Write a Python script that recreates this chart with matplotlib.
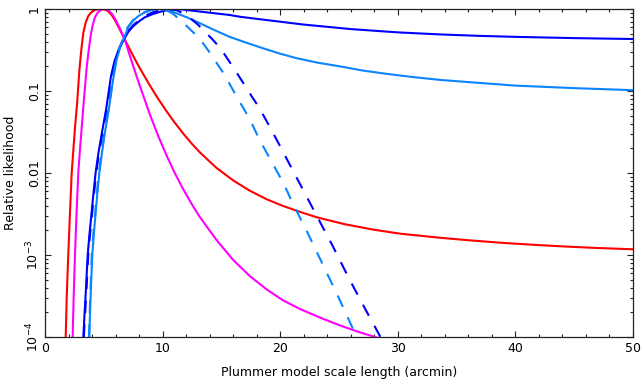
import numpy as np
import matplotlib.pyplot as plt
from matplotlib.ticker import FixedLocator, MultipleLocator, LogLocator, NullFormatter

# scale length (arcmin) and log10(relative likelihood)
red_x = [1.76, 1.85, 1.98, 2.12, 2.27, 2.42, 2.55, 2.75, 2.92, 3.1, 3.26, 3.45, 3.66,
         3.9, 4.2, 4.5, 4.9, 5.3, 5.67, 6.0, 6.4, 6.8, 7.2, 7.6, 8.0, 8.5, 8.93, 9.6,
         10.35, 11.0, 11.76, 12.5, 13.18, 14.6, 16.0, 17.4, 18.85, 20.2, 21.7, 23.1,
         25.5, 27.9, 30.2, 33.6, 36.0, 38.7, 41.5, 44.0, 47.0, 50.0]
red_ly = [-4.0, -3.5, -3.0, -2.5, -2.0, -1.7, -1.45, -1.11, -0.75, -0.48, -0.29, -0.17,
          -0.09, -0.045, -0.015, -0.003, 0.0, -0.02, -0.073, -0.15, -0.26, -0.378,
          -0.49, -0.60, -0.705, -0.83, -0.935, -1.09, -1.25, -1.38, -1.52, -1.645,
          -1.75, -1.94, -2.09, -2.215, -2.32, -2.40, -2.475, -2.54, -2.625, -2.69,
          -2.74, -2.79, -2.82, -2.85, -2.875, -2.895, -2.915, -2.93]

mag_x = [2.35, 2.44, 2.55, 2.68, 2.83, 2.98, 3.12, 3.3, 3.54, 3.7, 3.89, 4.05, 4.25,
         4.5, 4.8, 5.1, 5.4, 5.7, 6.0, 6.4, 6.8, 7.15, 7.51, 8.0, 8.5, 8.93, 9.63,
         10.35, 11.0, 11.76, 12.5, 13.18, 14.6, 16.0, 17.4, 18.85, 20.2, 21.7, 23.5,
         25.1, 26.7, 28.3, 29.0]
mag_ly = [-4.0, -3.5, -3.0, -2.5, -2.0, -1.7, -1.45, -1.12, -0.72, -0.52, -0.32, -0.2,
          -0.1, -0.04, -0.008, 0.0, -0.015, -0.06, -0.13, -0.25, -0.378, -0.54, -0.70,
          -0.91, -1.115, -1.29, -1.55, -1.79, -1.99, -2.2, -2.385, -2.54, -2.82, -3.06,
          -3.255, -3.42, -3.55, -3.66, -3.77, -3.86, -3.94, -4.01, -4.04]

blue_x = [3.26, 3.35, 3.45, 3.63, 3.78, 3.95, 4.12, 4.3, 4.55, 4.85, 5.2, 5.61, 5.9,
          6.2, 6.52, 6.8, 7.08, 7.5, 8.0, 8.5, 9.2, 9.9, 10.5, 11.0, 11.6, 12.5, 14.0,
          15.7, 16.6, 18.0, 20.0, 22.0, 24.2, 26.0, 28.0, 30.0, 33.6, 37.0, 40.1,
          45.0, 50.0]
blue_ly = [-4.0, -3.75, -3.5, -3.0, -2.75, -2.5, -2.25, -2.0, -1.75, -1.5, -1.22,
           -0.82, -0.64, -0.52, -0.42, -0.35, -0.28, -0.21, -0.15, -0.10, -0.06, -0.03,
           -0.01, 0.0, -0.005, -0.02, -0.045, -0.073, -0.095, -0.12, -0.155, -0.19,
           -0.22, -0.245, -0.265, -0.285, -0.31, -0.328, -0.34, -0.355, -0.366]

lblue_x = [3.77, 3.82, 3.88, 4.02, 4.15, 4.3, 4.45, 4.62, 4.85, 5.1, 5.4, 5.81, 6.09,
           6.4, 6.7, 7.08, 7.5, 8.0, 8.5, 9.0, 9.6, 10.06, 10.8, 11.5, 12.2, 12.9,
           14.3, 15.7, 17.1, 18.56, 20.0, 21.4, 23.2, 25.1, 27.0, 29.0, 31.3, 33.6,
           36.8, 40.1, 45.0, 50.0]
lblue_ly = [-4.0, -3.75, -3.5, -3.0, -2.75, -2.5, -2.25, -2.0, -1.75, -1.5, -1.25,
            -0.845, -0.62, -0.46, -0.36, -0.22, -0.14, -0.08, -0.04, -0.015, 0.0,
            -0.005, -0.03, -0.07, -0.11, -0.155, -0.25, -0.34, -0.41, -0.48, -0.545,
            -0.60, -0.655, -0.70, -0.75, -0.79, -0.83, -0.865, -0.90, -0.935, -0.965,
            -0.99]

bdash_x = [3.3, 3.4, 3.5, 3.68, 3.83, 4.0, 4.17, 4.35, 4.6, 4.9, 5.25, 5.66, 5.95,
           6.25, 6.57, 6.85, 7.13, 7.55, 8.05, 8.55, 9.2, 9.9, 10.5, 11.2, 12.0, 13.0,
           13.7, 14.3, 14.74, 15.3, 15.9, 16.45, 17.0, 17.6, 18.2, 19.2, 20.2, 21.0,
           22.0, 23.1, 24.5, 25.9, 27.2, 28.6]
bdash_ly = [-4.0, -3.75, -3.5, -3.0, -2.75, -2.5, -2.25, -2.0, -1.75, -1.5, -1.22,
            -0.82, -0.64, -0.5, -0.40, -0.33, -0.26, -0.19, -0.13, -0.08, -0.04, -0.01,
            0.0, -0.015, -0.07, -0.19, -0.29, -0.38, -0.45, -0.56, -0.69, -0.81, -0.935,
            -1.07, -1.2, -1.46, -1.73, -1.95, -2.22, -2.52, -2.9, -3.3, -3.65, -4.02]

ldash_x = [3.74, 3.79, 3.85, 3.98, 4.11, 4.26, 4.41, 4.58, 4.81, 5.06, 5.36, 5.77,
           6.05, 6.36, 6.66, 7.04, 7.46, 7.96, 8.46, 9.0, 9.8, 10.4, 10.9, 11.7, 12.5,
           13.2, 14.1, 14.7, 15.3, 16.3, 17.4, 18.26, 19.3, 20.3, 21.1, 22.4, 23.7,
           25.1, 26.5]
ldash_ly = [-4.0, -3.75, -3.5, -3.0, -2.75, -2.5, -2.25, -2.0, -1.75, -1.5, -1.25,
            -0.845, -0.62, -0.46, -0.36, -0.22, -0.14, -0.08, -0.04, -0.012, 0.0,
            -0.02, -0.06, -0.16, -0.27, -0.37, -0.55, -0.68, -0.81, -1.07, -1.34,
            -1.60, -1.87, -2.13, -2.38, -2.75, -3.14, -3.56, -4.0]

xticks = [0, 10, 20, 30, 40, 50]
yticks = [1e-4, 1e-3, 1e-2, 1e-1, 1]
ytick_labels = ['$10^{-4}$', '$10^{-3}$', '0.01', '0.1', '1']

fig = plt.figure(figsize=(6.43, 3.87), dpi=100)
ax = fig.add_axes([45/643, 50/387, 588/643, 328/387])

lw = 1.5
dash = (6, 5.5)
ax.plot(red_x, 10**np.array(red_ly), color='#ff0000', lw=lw)
ax.plot(mag_x, 10**np.array(mag_ly), color='#ff00ff', lw=lw)
ax.plot(blue_x, 10**np.array(blue_ly), color='#0000ff', lw=lw)
ax.plot(lblue_x, 10**np.array(lblue_ly), color='#0a84ff', lw=lw)
ax.plot(bdash_x, 10**np.array(bdash_ly), color='#0000ff', lw=lw, dashes=dash)
ax.plot(ldash_x, 10**np.array(ldash_ly), color='#0a84ff', lw=lw, dashes=dash)

ax.set_yscale('log')
ax.set_xlim(0, 50)
ax.set_ylim(1e-4, 1)

ax.xaxis.set_major_locator(FixedLocator(xticks))
ax.xaxis.set_minor_locator(MultipleLocator(2))
ax.set_yticks(yticks)
ax.set_yticklabels(ytick_labels, rotation=90, va='center')
ax.yaxis.set_minor_locator(LogLocator(base=10, subs=np.arange(2, 10)))
ax.yaxis.set_minor_formatter(NullFormatter())

ax.tick_params(which='both', direction='in', top=True, right=True,
               labelsize=9, color='#222222', width=0.8)
ax.tick_params(which='major', length=4.5)
ax.tick_params(which='minor', length=2.5)
ax.tick_params(axis='y', pad=3)
for s in ax.spines.values():
    s.set_linewidth(0.9)
    s.set_color('#222222')

ax.set_xlabel('Plummer model scale length (arcmin)', fontsize=9, labelpad=8)
ax.set_ylabel('Relative likelihood', fontsize=9, labelpad=5)

fig.savefig('out.png', dpi=100)
